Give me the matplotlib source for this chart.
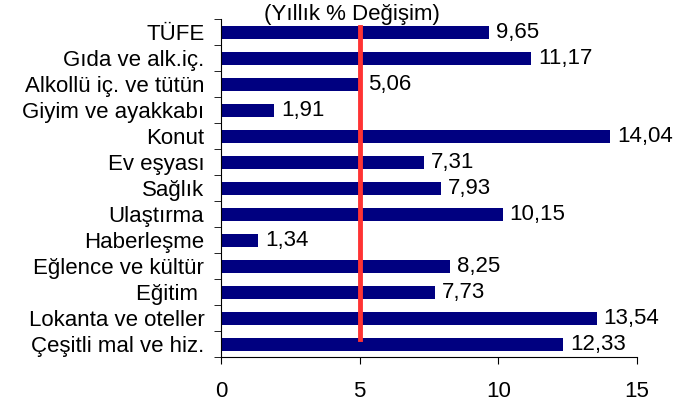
import numpy as np
import matplotlib.pyplot as plt

plt.rcParams['font.family'] = ['Liberation Sans', 'DejaVu Sans']

categories = ['TÜFE', 'Gıda ve alk.iç.', 'Alkollü iç. ve tütün', 'Giyim ve ayakkabı',
              'Konut', 'Ev eşyası', 'Sağlık', 'Ulaştırma', 'Haberleşme',
              'Eğlence ve kültür', 'Eğitim ', 'Lokanta ve oteller', 'Çeşitli mal ve hiz.']
values = [9.65, 11.17, 5.06, 1.91, 14.04, 7.31, 7.93, 10.15, 1.34, 8.25, 7.73, 13.54, 12.33]
target = 5
title = '(Yıllık % Değişim)'

fs = 16

fig = plt.figure(figsize=(6.83, 4.01), dpi=100)
ax = fig.add_axes([0.3236, 0.1097, 0.6091, 0.8429])

y = np.arange(len(categories))
ax.barh(y, values, height=0.5, color='#000080', zorder=2)

# red reference line
ax.plot([target, target], [-0.2, len(categories) - 1.2], color='#FF3333', lw=3.5, zorder=3)

# value labels with comma decimal
for yi, v in zip(y, values):
    ax.annotate(f'{v:.2f}'.replace('.', ','), (v, yi), xytext=(5, 0),
                textcoords='offset points', va='center', ha='left', fontsize=fs)

ax.set_xlim(0, 15)
ax.set_ylim(len(categories) - 0.5, -0.5)
ax.set_xticks([0, 5, 10, 15])
ax.tick_params(axis='x', labelsize=fs, length=5, direction='out', pad=12)

ax.set_yticks(y)
ax.set_yticklabels(categories, fontsize=fs)
ax.set_yticks(np.arange(-0.5, len(categories)), minor=True)
ax.tick_params(axis='y', which='major', length=0, pad=12)
ax.tick_params(axis='y', which='minor', length=5, direction='out')

ax.spines['top'].set_visible(False)
ax.spines['right'].set_visible(False)

fig.text(0.515, 0.963, title, ha='center', va='center', fontsize=fs)

fig.savefig('out.png', dpi=100)
